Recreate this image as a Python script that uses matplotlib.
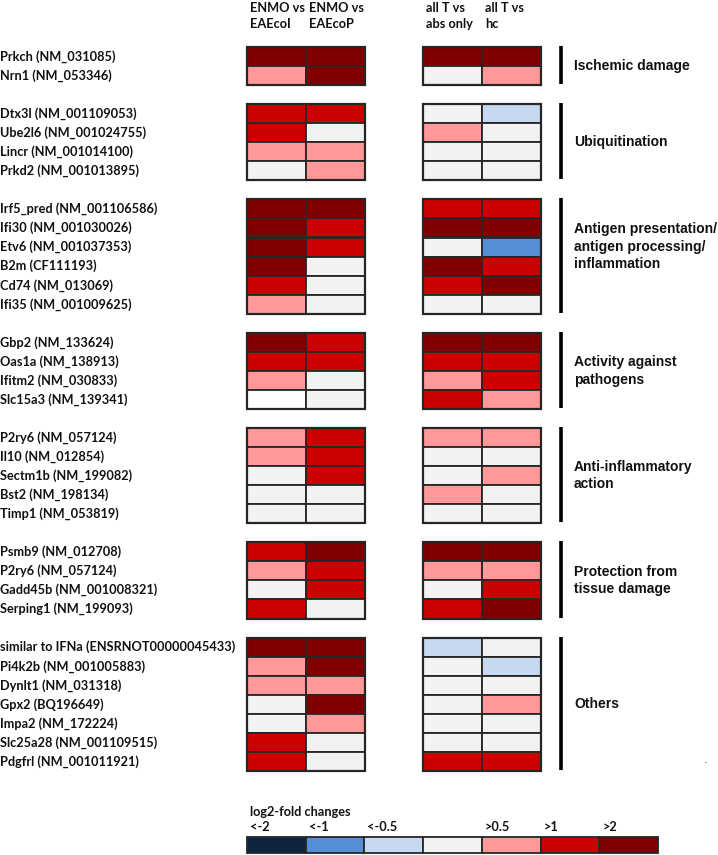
import matplotlib
matplotlib.use("Agg")
import matplotlib.pyplot as plt
from matplotlib.patches import Rectangle

# ---------------- data ----------------
group_names = ["Ischemic damage", "Ubiquitination",
               "Antigen presentation/\nantigen processing/\ninflammation",
               "Activity against\npathogens", "Anti-inflammatory\naction",
               "Protection from\ntissue damage", "Others"]
group_sizes = [2, 4, 6, 4, 5, 4, 7]
genes = ["Prkch (NM_031085)", "Nrn1 (NM_053346)",
         "Dtx3l (NM_001109053)", "Ube2l6 (NM_001024755)", "Lincr (NM_001014100)", "Prkd2 (NM_001013895)",
         "Irf5_pred (NM_001106586)", "Ifi30 (NM_001030026)", "Etv6 (NM_001037353)", "B2m (CF111193)",
         "Cd74 (NM_013069)", "Ifi35 (NM_001009625)",
         "Gbp2 (NM_133624)", "Oas1a (NM_138913)", "Ifitm2 (NM_030833)", "Slc15a3 (NM_139341)",
         "P2ry6 (NM_057124)", "Il10 (NM_012854)", "Sectm1b (NM_199082)", "Bst2 (NM_198134)", "Timp1 (NM_053819)",
         "Psmb9 (NM_012708)", "P2ry6 (NM_057124)", "Gadd45b (NM_001008321)", "Serping1 (NM_199093)",
         "similar to IFNa (ENSRNOT00000045433)", "Pi4k2b (NM_001005883)", "Dynlt1 (NM_031318)",
         "Gpx2 (BQ196649)", "Impa2 (NM_172224)", "Slc25a28 (NM_001109515)", "Pdgfrl (NM_001011921)"]
column_labels = ["ENMO vs\nEAEcoI", "ENMO vs\nEAEcoP", "all T vs\nabs only", "all T vs\nhc"]
# fold-change class: -3 '<-2', -2 '<-1', -1 '<-0.5', 0 neutral, 1 '>0.5', 2 '>1', 3 '>2', None = no colour
enmo_vs_eaecoi = [3, 1, 2, 2, 1, 0, 3, 3, 3, 3, 2, 1, 3, 2, 1, None, 1, 1, 0, 0, 0, 2, 1, 0, 2, 3, 1, 1, 0, 0, 2, 2]
enmo_vs_eaecop = [3, 3, 2, 0, 1, 1, 3, 2, 2, 0, 0, 0, 2, 2, 0, 0, 2, 2, 2, 0, 0, 3, 2, 2, 0, 3, 3, 1, 3, 1, 0, 0]
allT_vs_absonly = [3, 0, 0, 1, 0, 0, 2, 3, 0, 3, 2, 0, 3, 2, 1, 2, 1, 0, 0, 1, 0, 3, 1, 0, 2, -1, 0, 0, 0, 0, 0, 2]
allT_vs_hc = [3, 1, -1, 0, 0, 0, 2, 3, -2, 2, 3, 0, 3, 2, 2, 1, 1, 0, 1, 0, 0, 3, 1, 2, 3, 0, -1, 0, 1, 0, 0, 2]
legend_classes = [-3, -2, -1, 0, 1, 2, 3]
legend_labels = ["<-2", "<-1", "<-0.5", "", ">0.5", ">1", ">2"]

palette = {-3: "#0F243E", -2: "#558ED5", -1: "#C6D9F1", 0: "#F2F2F2",
           1: "#FF9999", 2: "#CC0000", 3: "#800000", None: "#FFFFFF"}

# ---------------- layout ----------------
W, H = 718, 855
fig = plt.figure(figsize=(W / 100, H / 100), dpi=100)
ax = fig.add_axes([0, 0, 1, 1])
ax.set_xlim(0, W)
ax.set_ylim(H, 0)
ax.axis("off")

gene_font = dict(family=["Lato", "DejaVu Sans"], fontweight="bold", fontsize=9.2, color="#111111")
cat_font = dict(family=["Liberation Sans", "DejaVu Sans"], fontweight="bold", fontsize=10, color="#111111")

top0 = 47.0
rh = 19.05
col_x = [247, 306, 423, 482]
cw = 59
edge = "#262626"
columns = [enmo_vs_eaecoi, enmo_vs_eaecop, allT_vs_absonly, allT_vs_hc]

# headers
for x, lab in zip(col_x, column_labels):
    l1, l2 = lab.split("\n")
    ax.text(x + 3, 8, l1, va="center", ha="left", **gene_font)
    ax.text(x + 3, 24, l2, va="center", ha="left", **gene_font)

cat_y_shift = [0, 0, -10, 0, 0, 0, 0]
gi = 0
row = 0
for g, n in enumerate(group_sizes):
    gtop = top0 + row * rh
    for k in range(n):
        y = top0 + row * rh
        ax.text(0, y + rh / 2, genes[gi], va="center", ha="left", **gene_font)
        for c, vals in enumerate(columns):
            ax.add_patch(Rectangle((col_x[c], y), cw, rh, facecolor=palette[vals[gi]],
                                   edgecolor=edge, linewidth=1.3))
        gi += 1
        row += 1
    gbot = top0 + row * rh
    # outer frames
    for x0 in (col_x[0], col_x[2]):
        ax.add_patch(Rectangle((x0, gtop), 2 * cw, gbot - gtop, facecolor="none",
                               edgecolor=edge, linewidth=1.6))
    ax.plot([560.5, 560.5], [gtop - 1, gbot - 1], color="black", linewidth=2.6, solid_capstyle="butt")
    ax.text(574, (gtop + gbot) / 2 + cat_y_shift[g], group_names[g], va="center", ha="left",
            linespacing=1.32, **cat_font)
    row += 1  # blank row between groups

# stray dot
ax.text(706, 760, ".", fontsize=8, color="#333333", ha="center", va="center")

# legend
ax.text(250, 812, "log2-fold changes", va="center", ha="left", **gene_font)
lx0, lw = 247, 58.7
for i, (cl, lab) in enumerate(zip(legend_classes, legend_labels)):
    x = lx0 + i * lw
    ax.add_patch(Rectangle((x, 837), lw, 16, facecolor=palette[cl], edgecolor=edge, linewidth=1.3))
    if lab:
        ax.text(x + 3, 827, lab, va="center", ha="left", **gene_font)

fig.savefig("out.png", dpi=100)
